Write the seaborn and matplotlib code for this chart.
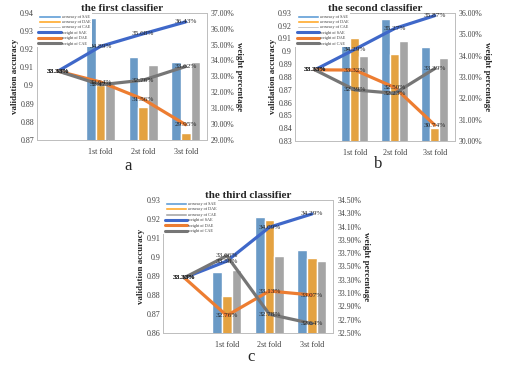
import matplotlib
matplotlib.use('Agg')
import matplotlib.pyplot as plt
import seaborn as sns
import pandas as pd
from matplotlib.patches import Patch
from matplotlib.lines import Line2D
from matplotlib.ticker import FuncFormatter

# categories (the first slot only holds the starting weight)
folds = ['', '1st fold', '2st fold', '3st fold']
models = ['SAE', 'DAE', 'CAE']

titles = ['the first classifier', 'the second classifier', 'the third classifier']
captions = ['a', 'b', 'c']

# validation accuracy per fold (1st, 2st, 3st)
acc_sae = [[0.937, 0.9155, 0.913], [0.915, 0.925, 0.903], [0.892, 0.921, 0.9035]]
acc_dae = [[0.900, 0.888, 0.874], [0.910, 0.898, 0.840], [0.8795, 0.9195, 0.8995]]
acc_cae = [[0.9005, 0.911, 0.913], [0.896, 0.908, 0.895], [0.893, 0.9005, 0.898]]

# weight percentage (start, 1st, 2st, 3st)
w_sae = [[33.33, 34.89, 35.68, 36.43], [33.33, 34.29, 35.27, 35.87], [33.33, 33.58, 34.09, 34.29]]
w_dae = [[33.33, 32.64, 31.56, 29.95], [33.33, 33.32, 32.50, 30.74], [33.33, 32.76, 33.13, 33.07]]
w_cae = [[33.33, 32.47, 32.76, 33.62], [33.33, 32.39, 32.23, 33.39], [33.33, 33.66, 32.78, 32.64]]

# axis ticks
acc_ticks = [[0.87, 0.88, 0.89, 0.90, 0.91, 0.92, 0.93, 0.94],
             [0.83, 0.84, 0.85, 0.86, 0.87, 0.88, 0.89, 0.90, 0.91, 0.92, 0.93],
             [0.86, 0.87, 0.88, 0.89, 0.90, 0.91, 0.92, 0.93]]
w_ticks = [[29, 30, 31, 32, 33, 34, 35, 36, 37],
           [30, 31, 32, 33, 34, 35, 36],
           [32.5, 32.7, 32.9, 33.1, 33.3, 33.5, 33.7, 33.9, 34.1, 34.3, 34.5]]

bar_colors = ['#5B9BD5', '#FFA726', '#A5A5A5']
line_colors = ['#3F68C9', '#ED7D31', '#767676']

# axes boxes [left, bottom, width, height]
boxes = [[0.072, 0.619, 0.333, 0.346],
         [0.577, 0.616, 0.313, 0.349],
         [0.319, 0.093, 0.333, 0.362]]
cap_pos = [(0.25, 0.548), (0.74, 0.553), (0.491, 0.027)]

sns.set_style('white')
plt.rcParams['font.family'] = ['Liberation Serif', 'DejaVu Serif']

fig = plt.figure(figsize=(5.11, 3.67), dpi=100)
txt = '#404040'

for i in range(3):
    ax = fig.add_axes(boxes[i])
    rows = []
    for m, vals in zip(models, [acc_sae[i], acc_dae[i], acc_cae[i]]):
        for f, v in zip(folds[1:], vals):
            rows.append({'fold': f, 'acc': v, 'model': 'accuracy of ' + m})
    bdf = pd.DataFrame(rows)
    sns.barplot(data=bdf, x='fold', y='acc', hue='model', order=folds,
                hue_order=['accuracy of ' + m for m in models],
                palette=bar_colors, width=0.68, ax=ax, legend=False)
    ax.set_yticks(acc_ticks[i])
    ax.set_ylim(acc_ticks[i][0], acc_ticks[i][-1])
    ax.yaxis.set_major_formatter(FuncFormatter(
        lambda v, p: '0.9' if abs(v - 0.9) < 1e-9 else f'{v:.2f}'))
    ax.set_xlabel('')
    ax.set_ylabel('validation accuracy', fontsize=6.5, fontweight='bold', labelpad=1)
    ax.tick_params(axis='y', labelsize=5.8, colors=txt, length=0, pad=2)
    ax.tick_params(axis='x', labelsize=5.8, colors=txt, length=0, pad=6)
    ax.set_title(titles[i], fontsize=8, fontweight='bold', pad=0.5)

    ax2 = ax.twinx()
    wrows = []
    for m, vals in zip(models, [w_sae[i], w_dae[i], w_cae[i]]):
        for k, v in enumerate(vals):
            wrows.append({'pos': k, 'w': v, 'model': 'weight of ' + m})
    wdf = pd.DataFrame(wrows)
    sns.lineplot(data=wdf, x='pos', y='w', hue='model',
                 hue_order=['weight of ' + m for m in models],
                 palette=line_colors, linewidth=2.3, ax=ax2, legend=False)
    for _, r in wdf.iterrows():
        ax2.text(r['pos'], r['w'], f"{r['w']:.2f}%", fontsize=5.2,
                 ha='center', va='center', color='#222222')
    ax2.set_yticks(w_ticks[i])
    ax2.set_ylim(w_ticks[i][0], w_ticks[i][-1])
    ax2.yaxis.set_major_formatter(FuncFormatter(lambda v, p: f'{v:.2f}%'))
    ax2.set_ylabel('weight percentage', fontsize=6.5, fontweight='bold',
                   rotation=270, labelpad=6)
    ax2.set_xlabel('')
    ax2.tick_params(axis='y', labelsize=5.6, colors=txt, length=0, pad=3)
    ax.set_xlim(-0.5, 3.5)

    for a in (ax, ax2):
        for s in a.spines.values():
            s.set_color('#BFBFBF')
            s.set_linewidth(0.7)

    handles = [Patch(facecolor=c, label='accuracy of ' + m)
               for c, m in zip(bar_colors, models)]
    handles += [Line2D([], [], color=c, linewidth=2.2, label='weight of ' + m)
                for c, m in zip(line_colors, models)]
    leg = ax2.legend(handles=handles, loc='upper left', bbox_to_anchor=(0.0, 1.0),
                     fontsize=3.0, handlelength=5.4, handleheight=0.7,
                     labelspacing=0.35, borderpad=0.3, borderaxespad=0.1,
                     handletextpad=0.3, frameon=True, framealpha=1,
                     facecolor='white', edgecolor='none', fancybox=False)
    for t in leg.get_texts():
        t.set_color('#333333')

    fig.text(cap_pos[i][0], cap_pos[i][1], captions[i], fontsize=12,
             ha='center', va='center')

fig.savefig('out.png', dpi=100)
